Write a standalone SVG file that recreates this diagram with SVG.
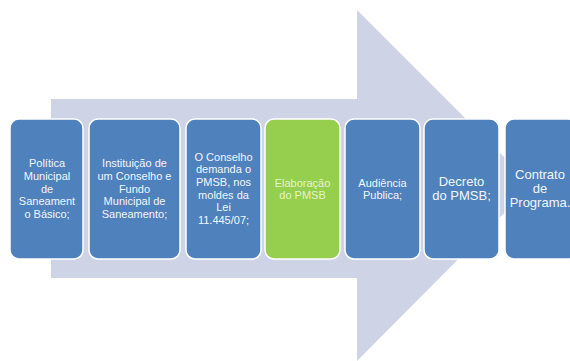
<svg xmlns="http://www.w3.org/2000/svg" width="570" height="361" viewBox="0 0 570 361">
<style>
  .box { fill: #4F81BD; stroke: #FFFFFF; stroke-width: 1.5; }
  .box.green { fill: #96CE4E; }
  .t { font-family: "Liberation Sans", Arial, sans-serif; font-size: 11px; fill: #F2F6FC; text-anchor: middle; }
  .t.big { font-size: 13px; }
  .t.g { fill: #E4F4CC; }
</style>
<rect x="0" y="0" width="570" height="361" fill="#FFFFFF"/>
<g id="arrow-bg">
  <path d="M51,99 L357,99 L357,10 L532,185 L357,361 L357,278 L51,278 Z" fill="#CED4E5"/>
</g>
<g id="connectors"></g>
<g id="n1">
  <rect class="box" x="10" y="119" width="73" height="140" rx="9"/>
  <text class="t" x="47" y="167">Política</text>
  <text class="t" x="47" y="180">Municipal</text>
  <text class="t" x="47" y="192.5">de</text>
  <text class="t" x="47" y="205">Saneament</text>
  <text class="t" x="47" y="217.5">o Básico;</text>
</g>
<g id="n2">
  <rect class="box" x="89" y="119" width="91" height="140" rx="9"/>
  <text class="t" x="134.5" y="167">Instituição de</text>
  <text class="t" x="134.5" y="180">um Conselho e</text>
  <text class="t" x="134.5" y="192.5">Fundo</text>
  <text class="t" x="134.5" y="205">Municipal de</text>
  <text class="t" x="134.5" y="217.5">Saneamento;</text>
</g>
<g id="n3">
  <rect class="box" x="186" y="119" width="75" height="140" rx="9"/>
  <text class="t" x="223.5" y="160.5">O Conselho</text>
  <text class="t" x="223.5" y="173">demanda o</text>
  <text class="t" x="223.5" y="186">PMSB, nos</text>
  <text class="t" x="223.5" y="198.5">moldes da</text>
  <text class="t" x="223.5" y="211">Lei</text>
  <text class="t" x="223.5" y="223.5">11.445/07;</text>
</g>
<g id="n4">
  <rect class="box green" x="265" y="119" width="75" height="140" rx="9"/>
  <text class="t g" x="302.5" y="186.5">Elaboração</text>
  <text class="t g" x="302.5" y="199">do PMSB</text>
</g>
<g id="n5">
  <rect class="box" x="345" y="119" width="75" height="140" rx="9"/>
  <text class="t" x="382.5" y="186.5">Audiência</text>
  <text class="t" x="382.5" y="199">Publica;</text>
</g>
<g id="n6">
  <rect class="box" x="424" y="119" width="75" height="140" rx="9"/>
  <text class="t big" x="461.5" y="186">Decreto</text>
  <text class="t big" x="461.5" y="200">do PMSB;</text>
</g>
<g id="n7">
  <rect class="box" x="505" y="119" width="72" height="140" rx="9"/>
  <text class="t big" x="540" y="178.5">Contrato</text>
  <text class="t big" x="540" y="192.5">de</text>
  <text class="t big" x="540" y="206.5">Programa.</text>
</g>
</svg>
